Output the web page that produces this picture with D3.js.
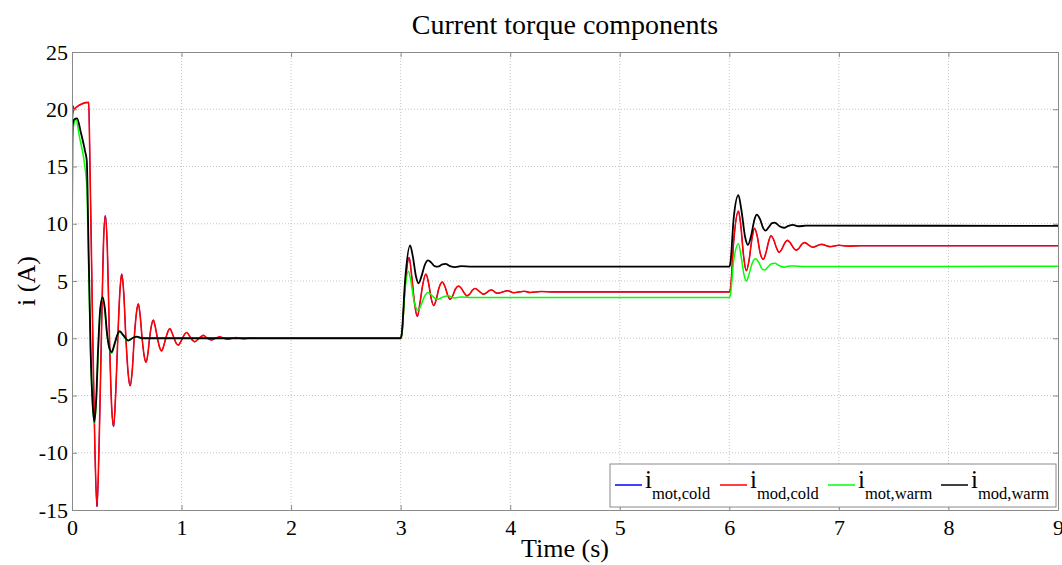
<!DOCTYPE html>
<html><head><meta charset="utf-8">
<script src="https://cdn.jsdelivr.net/npm/d3@7"></script>
<style>
body{margin:0;background:#fff;}
svg{display:block;font-family:"Liberation Serif","Times New Roman",serif;}
</style></head>
<body><svg id="c" width="1062" height="565"></svg>
<script>
const xTicks = [0,1,2,3,4,5,6,7,8,9];
const yTicks = [-15,-10,-5,0,5,10,15,20,25];
const seriesNames = ["mot,cold","mod,cold","mot,warm","mod,warm"];
const seriesColors = ["#0000ff","#ff0000","#00ff00","#000000"];

// i_mot,cold  [t (s), i (A)]
const motCold = [[0,16.5],[0.006,19.9],[0.012,20.3],[0.018,20.0],[0.03,20.1],[0.152,20.6],[0.165,14.5],[0.19,0],[0.21,-10],[0.228,-14.7],[0.248,-9],[0.268,0],[0.288,8.5],[0.304,10.7],[0.322,8],[0.342,0],[0.362,-6],[0.38,-7.7],[0.398,-5],[0.418,0],[0.438,4.2],[0.454,5.6],[0.472,4],[0.492,0],[0.512,-3],[0.53,-4.15],[0.55,-2.8],[0.568,0],[0.588,2.2],[0.605,3.0],[0.622,2],[0.64,0],[0.658,-1.5],[0.675,-2.1],[0.692,-1.4],[0.708,0],[0.725,1.1],[0.742,1.6],[0.76,1.0],[0.78,0],[0.8,-0.8],[0.818,-1.1],[0.836,-0.7],[0.856,0],[0.876,0.6],[0.894,0.85],[0.912,0.5],[0.932,0],[0.952,-0.45],[0.97,-0.6],[0.99,-0.35],[1.008,0],[1.028,0.35],[1.047,0.5],[1.066,0.3],[1.085,0],[1.12,-0.3],[1.16,0],[1.2,0.25],[1.235,0],[1.27,-0.15],[1.31,0],[1.35,0.12],[1.385,0],[1.42,-0.08],[1.46,0],[1.5,0.06],[1.535,0],[1.57,-0.04],[1.61,0],[1.65,0.03],[1.7,0],[3.0,0],[3.01,0.3],[3.04,4.5],[3.077,7.05],[3.1,5.5],[3.125,3.2],[3.152,1.9],[3.175,3.0],[3.2,4.6],[3.23,5.6],[3.255,4.8],[3.278,3.5],[3.302,2.85],[3.325,3.4],[3.35,4.4],[3.38,4.9],[3.405,4.5],[3.428,3.8],[3.452,3.4],[3.475,3.7],[3.5,4.3],[3.53,4.55],[3.555,4.35],[3.58,3.95],[3.605,3.7],[3.63,3.85],[3.655,4.2],[3.68,4.35],[3.705,4.2],[3.73,4.0],[3.755,3.85],[3.78,3.95],[3.805,4.15],[3.83,4.22],[3.88,3.93],[3.98,4.15],[4.03,3.98],[4.13,4.1],[4.18,4.0],[4.28,4.08],[4.4,4.05],[6.0,4.05],[6.01,4.3],[6.04,8.5],[6.083,11.1],[6.105,9.8],[6.13,7.2],[6.155,5.9],[6.18,6.8],[6.205,8.6],[6.23,9.6],[6.255,8.9],[6.28,7.5],[6.31,6.9],[6.335,7.5],[6.36,8.5],[6.38,8.95],[6.405,8.6],[6.43,7.9],[6.455,7.5],[6.48,7.8],[6.505,8.3],[6.53,8.55],[6.555,8.35],[6.585,7.9],[6.61,7.7],[6.635,7.85],[6.66,8.2],[6.685,8.35],[6.76,7.95],[6.84,8.2],[6.92,8.0],[7.0,8.12],[7.08,8.05],[7.2,8.08],[9,8.08]];

// i_mod,cold
const modCold = [[0,18.7],[0.01,19.8],[0.03,20.1],[0.152,20.6],[0.165,14.5],[0.19,0],[0.21,-10],[0.228,-14.7],[0.248,-9],[0.268,0],[0.288,8.5],[0.304,10.7],[0.322,8],[0.342,0],[0.362,-6],[0.38,-7.7],[0.398,-5],[0.418,0],[0.438,4.2],[0.454,5.6],[0.472,4],[0.492,0],[0.512,-3],[0.53,-4.15],[0.55,-2.8],[0.568,0],[0.588,2.2],[0.605,3.0],[0.622,2],[0.64,0],[0.658,-1.5],[0.675,-2.1],[0.692,-1.4],[0.708,0],[0.725,1.1],[0.742,1.6],[0.76,1.0],[0.78,0],[0.8,-0.8],[0.818,-1.1],[0.836,-0.7],[0.856,0],[0.876,0.6],[0.894,0.85],[0.912,0.5],[0.932,0],[0.952,-0.45],[0.97,-0.6],[0.99,-0.35],[1.008,0],[1.028,0.35],[1.047,0.5],[1.066,0.3],[1.085,0],[1.12,-0.3],[1.16,0],[1.2,0.25],[1.235,0],[1.27,-0.15],[1.31,0],[1.35,0.12],[1.385,0],[1.42,-0.08],[1.46,0],[1.5,0.06],[1.535,0],[1.57,-0.04],[1.61,0],[1.65,0.03],[1.7,0],[3.0,0],[3.01,0.3],[3.04,4.5],[3.077,7.05],[3.1,5.5],[3.125,3.2],[3.152,1.9],[3.175,3.0],[3.2,4.6],[3.23,5.6],[3.255,4.8],[3.278,3.5],[3.302,2.85],[3.325,3.4],[3.35,4.4],[3.38,4.9],[3.405,4.5],[3.428,3.8],[3.452,3.4],[3.475,3.7],[3.5,4.3],[3.53,4.55],[3.555,4.35],[3.58,3.95],[3.605,3.7],[3.63,3.85],[3.655,4.2],[3.68,4.35],[3.705,4.2],[3.73,4.0],[3.755,3.85],[3.78,3.95],[3.805,4.15],[3.83,4.22],[3.88,3.93],[3.98,4.15],[4.03,3.98],[4.13,4.1],[4.18,4.0],[4.28,4.08],[4.4,4.05],[6.0,4.05],[6.01,4.3],[6.04,8.5],[6.083,11.1],[6.105,9.8],[6.13,7.2],[6.155,5.9],[6.18,6.8],[6.205,8.6],[6.23,9.6],[6.255,8.9],[6.28,7.5],[6.31,6.9],[6.335,7.5],[6.36,8.5],[6.38,8.95],[6.405,8.6],[6.43,7.9],[6.455,7.5],[6.48,7.8],[6.505,8.3],[6.53,8.55],[6.555,8.35],[6.585,7.9],[6.61,7.7],[6.635,7.85],[6.66,8.2],[6.685,8.35],[6.76,7.95],[6.84,8.2],[6.92,8.0],[7.0,8.12],[7.08,8.05],[7.2,8.08],[9,8.08]];

// i_mot,warm
const motWarm = [[0,0],[0.003,17],[0.015,18.6],[0.036,19.1],[0.07,17.5],[0.12,14.8],[0.135,13.3],[0.15,7],[0.17,-1.5],[0.19,-6],[0.206,-7.4],[0.222,-5.5],[0.24,-1],[0.258,2.5],[0.278,3.5],[0.298,2.5],[0.32,0.3],[0.34,-0.9],[0.362,-1.3],[0.385,-0.7],[0.41,0.1],[0.436,0.55],[0.47,0.2],[0.51,-0.2],[0.55,0],[0.59,0.12],[0.64,0],[3.0,0],[3.01,0.3],[3.04,4.2],[3.07,5.85],[3.095,4.9],[3.125,3.1],[3.16,2.45],[3.19,3.0],[3.22,3.7],[3.25,4.0],[3.28,3.8],[3.31,3.5],[3.34,3.4],[3.385,3.6],[3.435,3.72],[3.49,3.52],[3.55,3.6],[3.65,3.55],[6.0,3.55],[6.01,3.8],[6.04,6.8],[6.083,8.25],[6.11,7.0],[6.135,5.5],[6.155,5.0],[6.18,5.6],[6.21,6.6],[6.24,6.95],[6.27,6.6],[6.295,6.1],[6.32,5.95],[6.35,6.2],[6.385,6.5],[6.415,6.55],[6.455,6.35],[6.5,6.2],[6.55,6.32],[6.6,6.3],[6.7,6.27],[9,6.28]];

// i_mod,warm
const modWarm = [[0,8.5],[0.004,18.5],[0.02,19.1],[0.046,19.2],[0.08,18],[0.12,16.3],[0.135,15.5],[0.15,8.5],[0.17,-1],[0.19,-6],[0.204,-7.3],[0.22,-5.5],[0.238,-1],[0.258,2.6],[0.28,3.6],[0.3,2.6],[0.32,0.4],[0.34,-0.8],[0.362,-1.2],[0.385,-0.6],[0.41,0.2],[0.435,0.62],[0.47,0.25],[0.514,-0.2],[0.55,0],[0.59,0.15],[0.64,0],[3.0,0],[3.01,0.4],[3.04,5.0],[3.086,8.1],[3.11,7.2],[3.14,5.4],[3.163,4.8],[3.19,5.4],[3.22,6.4],[3.25,6.8],[3.28,6.6],[3.31,6.3],[3.34,6.25],[3.38,6.45],[3.41,6.5],[3.45,6.3],[3.5,6.22],[3.55,6.3],[3.65,6.25],[6.0,6.25],[6.01,6.6],[6.04,10.5],[6.083,12.5],[6.11,11.2],[6.145,8.8],[6.17,8.15],[6.2,9.0],[6.23,10.4],[6.25,10.8],[6.28,10.4],[6.31,9.6],[6.33,9.4],[6.36,9.7],[6.39,10.05],[6.415,10.1],[6.455,9.8],[6.5,9.65],[6.54,9.82],[6.58,9.9],[6.63,9.78],[6.7,9.83],[9,9.82]];

const seriesData = [motCold, modCold, motWarm, modWarm];

const svg = d3.select("#c");
const L = 72, R = 1058, T = 52, B = 510;
const x = d3.scaleLinear().domain([0,9]).range([L,R]);
const y = d3.scaleLinear().domain([-15,25]).range([B,T]);
const frameColor = "#8a8a8a";

// grid
const grid = svg.append("g");
grid.selectAll("line.vx").data(xTicks.filter(d=>d>0&&d<9)).join("line")
  .attr("x1",d=>x(d)).attr("x2",d=>x(d)).attr("y1",T).attr("y2",B)
  .attr("stroke","#c4c4c4").attr("stroke-dasharray","1,2").attr("stroke-width",1);
grid.selectAll("line.hy").data(yTicks.filter(d=>d>-15&&d<25)).join("line")
  .attr("y1",d=>y(d)).attr("y2",d=>y(d)).attr("x1",L).attr("x2",R)
  .attr("stroke","#c4c4c4").attr("stroke-dasharray","1,2").attr("stroke-width",1);

// lines
svg.append("clipPath").attr("id","pc").append("rect")
  .attr("x",L).attr("y",T).attr("width",R-L).attr("height",B-T);
const line = d3.line().x(d=>x(d[0])).y(d=>y(d[1])).curve(d3.curveMonotoneX);
const widths = [1.0,1.6,1.5,1.8];
svg.append("g").attr("clip-path","url(#pc)").selectAll("path").data(seriesData).join("path")
  .attr("d",line).attr("fill","none")
  .attr("stroke",(d,i)=>seriesColors[i]).attr("stroke-width",(d,i)=>widths[i])
  .attr("stroke-linejoin","round");

// axes
function styleAxis(g){
  g.select(".domain").attr("stroke",frameColor);
  g.selectAll(".tick line").attr("stroke",frameColor);
  g.selectAll("text").attr("fill","#000").style("font-size","22px")
   .style("font-family",'"Liberation Serif","Times New Roman",serif');
}
svg.append("g").attr("transform",`translate(0,${B})`)
  .call(d3.axisBottom(x).tickValues(xTicks).tickFormat(d3.format("d")).tickSizeInner(-5).tickSizeOuter(0).tickPadding(9))
  .call(styleAxis);
svg.append("g").attr("transform",`translate(${L},0)`)
  .call(d3.axisLeft(y).tickValues(yTicks).tickFormat(d=>d<0?"-"+Math.abs(d):d).tickSizeInner(-5).tickSizeOuter(0).tickPadding(4))
  .call(styleAxis);
svg.append("g").attr("transform",`translate(0,${T})`)
  .call(d3.axisTop(x).tickValues(xTicks).tickFormat("").tickSizeInner(-5).tickSizeOuter(0))
  .call(styleAxis);
svg.append("g").attr("transform",`translate(${R},0)`)
  .call(d3.axisRight(y).tickValues(yTicks).tickFormat("").tickSizeInner(-5).tickSizeOuter(0))
  .call(styleAxis);

// title & labels
svg.append("text").attr("x",565).attr("y",34).attr("text-anchor","middle")
  .style("font-size","28px").text("Current torque components");
svg.append("text").attr("x",565).attr("y",557).attr("text-anchor","middle")
  .style("font-size","26px").text("Time (s)");
svg.append("text").attr("transform",`translate(35,${(T+B)/2}) rotate(-90)`).attr("text-anchor","middle")
  .style("font-size","26px").text("i (A)");

// legend
const lg = svg.append("g");
lg.append("rect").attr("x",610).attr("y",464).attr("width",446).attr("height",43)
  .attr("fill","#fff").attr("stroke",frameColor).attr("stroke-width",1);
const entryX = [615,720,828,941];
seriesNames.forEach((name,i)=>{
  const cx = entryX[i];
  lg.append("line").attr("x1",cx).attr("x2",cx+27).attr("y1",485).attr("y2",485)
    .attr("stroke",seriesColors[i]).attr("stroke-width",1.5);
  const t1 = lg.append("text").attr("x",cx+30).attr("y",488).style("font-size","25px").text("i");
  const w1 = t1.node().getComputedTextLength();
  lg.append("text").attr("x",cx+30+w1).attr("y",499).style("font-size","16.5px").text(name);
});
</script></body></html>
